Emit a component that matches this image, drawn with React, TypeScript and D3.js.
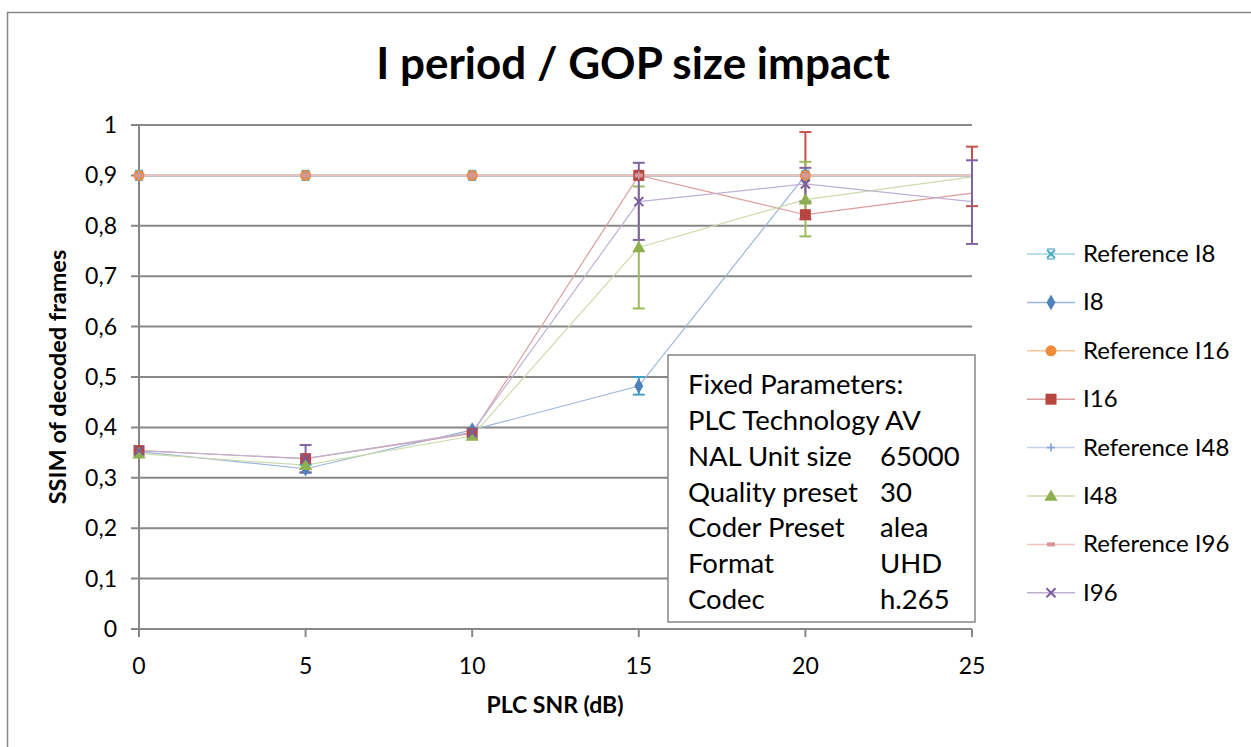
import React from "react";
import * as d3 from "d3";

const xValues = [0, 5, 10, 15, 20, 25];
const yTicks = [0, 0.1, 0.2, 0.3, 0.4, 0.5, 0.6, 0.7, 0.8, 0.9, 1];
const xTicks = [0, 5, 10, 15, 20, 25];

const seriesNames = ["Reference I8", "I8", "Reference I16", "I16", "Reference I48", "I48", "Reference I96", "I96"];

const refI8 = [0.9, 0.9, 0.9, 0.9, 0.9, 0.9];
const i8 = [0.352, 0.318, 0.395, 0.482, 0.9, 0.9];
const refI16 = [0.9, 0.9, 0.9, 0.9, 0.9, 0.9];
const i16 = [0.354, 0.338, 0.388, 0.9, 0.822, 0.865];
const refI48 = [0.9, 0.9, 0.9, 0.9, 0.9, 0.9];
const i48 = [0.348, 0.325, 0.383, 0.757, 0.852, 0.897];
const refI96 = [0.9, 0.9, 0.9, 0.9, 0.9, 0.9];
const i96 = [0.354, 0.338, 0.39, 0.848, 0.883, 0.848];

// error bars: [low, high] or null
const i8Err: ([number, number] | null)[] = [null, [0.31, 0.326], null, [0.465, 0.5], null, null];
const i16Err: ([number, number] | null)[] = [null, null, null, null, [0.813, 0.986], [0.839, 0.957]];
const i48Err: ([number, number] | null)[] = [null, null, null, [0.636, 0.878], [0.779, 0.927], null];
const i96Err: ([number, number] | null)[] = [null, [0.311, 0.365], null, [0.772, 0.925], [0.848, 0.915], [0.764, 0.93]];

const paramLabels = ["PLC Technology AV", "NAL Unit size", "Quality preset", "Coder Preset", "Format", "Codec"];
const paramValues = ["", "65000", "30", "alea", "UHD", "h.265"];

const FONT = "Lato, 'Open Sans', sans-serif";

type Series = {
  name: string;
  values: number[];
  line: string;
  marker: string;
  shape: string;
  err: ([number, number] | null)[] | null;
  errColor: string;
};

const series: Series[] = [
  { name: seriesNames[0], values: refI8, line: "#9fd3e2", marker: "#4BACC6", shape: "star", err: null, errColor: "" },
  { name: seriesNames[1], values: i8, line: "#9cb6da", marker: "#4F81BD", shape: "diamond", err: i8Err, errColor: "#3fa3c2" },
  { name: seriesNames[2], values: refI16, line: "#f9c79d", marker: "#F08A3C", shape: "circle", err: null, errColor: "" },
  { name: seriesNames[3], values: i16, line: "#dc9e9c", marker: "#B84540", shape: "square", err: i16Err, errColor: "#c8504c" },
  { name: seriesNames[4], values: refI48, line: "#c4d4ea", marker: "#8aa6d6", shape: "plus", err: null, errColor: "" },
  { name: seriesNames[5], values: i48, line: "#cbdcab", marker: "#8eb04e", shape: "triangle", err: i48Err, errColor: "#9bbb59" },
  { name: seriesNames[6], values: refI96, line: "#efc4c3", marker: "#d99694", shape: "dash", err: null, errColor: "" },
  { name: seriesNames[7], values: i96, line: "#bfb1d3", marker: "#7a5c9e", shape: "x", err: i96Err, errColor: "#8064A2" },
];

function Marker({ shape, color, x, y }: { shape: string; color: string; x: number; y: number }) {
  switch (shape) {
    case "diamond":
      return <path d={d3.symbol(d3.symbolDiamond, 70)()!} transform={`translate(${x},${y})`} fill={color} />;
    case "circle":
      return <circle cx={x} cy={y} r={5.5} fill={color} />;
    case "square":
      return <rect x={x - 5.5} y={y - 5.5} width={11} height={11} fill={color} />;
    case "triangle":
      return <path d={d3.symbol(d3.symbolTriangle, 75)()!} transform={`translate(${x},${y + 1})`} fill={color} />;
    case "plus":
      return (
        <g stroke={color} strokeWidth={1.8}>
          <line x1={x - 4} x2={x + 4} y1={y} y2={y} />
          <line x1={x} x2={x} y1={y - 4} y2={y + 4} />
        </g>
      );
    case "dash":
      return <rect x={x - 4} y={y - 2} width={8} height={4} fill={color} />;
    case "star":
      return (
        <g stroke={color} strokeWidth={2}>
          <line x1={x - 4} x2={x + 4} y1={y - 4} y2={y + 4} />
          <line x1={x - 4} x2={x + 4} y1={y + 4} y2={y - 4} />
          <line x1={x - 4} x2={x + 4} y1={y - 5} y2={y - 5} strokeWidth={1.2} />
          <line x1={x - 4} x2={x + 4} y1={y + 5} y2={y + 5} strokeWidth={1.2} />
        </g>
      );
    case "x":
    default:
      return (
        <g stroke={color} strokeWidth={2}>
          <line x1={x - 4.5} x2={x + 4.5} y1={y - 4.5} y2={y + 4.5} />
          <line x1={x - 4.5} x2={x + 4.5} y1={y + 4.5} y2={y - 4.5} />
        </g>
      );
  }
}

export default function App() {
  const W = 1251;
  const H = 747;
  const left = 139;
  const right = 972;
  const top = 125;
  const bottom = 629;

  const x = d3.scaleLinear().domain([0, 25]).range([left, right]);
  const y = d3.scaleLinear().domain([0, 1]).range([bottom, top]);
  const line = d3
    .line<number>()
    .x((_, i) => x(xValues[i]))
    .y((d) => y(d));

  const legendX = 1027;
  const legendY0 = 254;
  const legendStep = 48.4;

  const boxX = 668;
  const boxY = 355;
  const boxW = 307;
  const boxH = 267;
  const gray = "#878787";

  return (
    <svg
      width={W}
      height={H}
      style={{ position: "absolute", left: 0, top: 0, background: "#fff" }}
      fontFamily={FONT}
    >
      <rect x={0} y={0} width={W} height={H} fill="#fff" />
      <rect x={7.5} y={12.5} width={1400} height={900} fill="none" stroke={gray} strokeWidth={1.5} />

      <text x={633} y={79} textAnchor="middle" fontSize={44} fontWeight="bold" fill="#000">
        I period / GOP size impact
      </text>

      {/* gridlines */}
      {yTicks.map((t) => (
        <line key={"g" + t} x1={left - 8} x2={right} y1={y(t)} y2={y(t)} stroke={gray} strokeWidth={2} />
      ))}
      {/* y axis */}
      <line x1={left} x2={left} y1={top} y2={bottom} stroke={gray} strokeWidth={2} />
      {/* x ticks */}
      {xTicks.map((t) => (
        <line key={"xt" + t} x1={x(t)} x2={x(t)} y1={bottom} y2={bottom + 8} stroke={gray} strokeWidth={2} />
      ))}
      {yTicks.map((t) => (
        <text key={"yl" + t} x={117} y={y(t) + 8} textAnchor="end" fontSize={23} fill="#000">
          {t === 0 || t === 1 ? String(t) : d3.format(".1f")(t).replace(".", ",")}
        </text>
      ))}
      {xTicks.map((t) => (
        <text key={"xl" + t} x={x(t)} y={674} textAnchor="middle" fontSize={23} fill="#000">
          {t}
        </text>
      ))}

      <text x={555} y={713} textAnchor="middle" fontSize={23} fontWeight="bold" fill="#000">
        PLC SNR (dB)
      </text>
      <text
        transform={`translate(66,${377}) rotate(-90)`}
        textAnchor="middle"
        fontSize={23.5}
        fontWeight="bold"
        fill="#000"
      >
        SSIM of decoded frames
      </text>

      {/* lines */}
      {series.map((s) => (
        <path key={"l" + s.name} d={line(s.values)!} fill="none" stroke={s.line} strokeWidth={1.2} />
      ))}

      {/* error bars */}
      {series.map((s) =>
        s.err
          ? s.err.map((e, i) =>
              e ? (
                <g key={"e" + s.name + i} stroke={s.errColor} strokeWidth={2}>
                  <line x1={x(xValues[i])} x2={x(xValues[i])} y1={y(e[0])} y2={y(e[1])} />
                  <line x1={x(xValues[i]) - 6} x2={x(xValues[i]) + 6} y1={y(e[0])} y2={y(e[0])} />
                  <line x1={x(xValues[i]) - 6} x2={x(xValues[i]) + 6} y1={y(e[1])} y2={y(e[1])} />
                </g>
              ) : null
            )
          : null
      )}

      {/* markers (not at the last point) */}
      {series.map((s) =>
        s.values.slice(0, xValues.length - 1).map((v, i) => (
          <Marker key={"m" + s.name + i} shape={s.shape} color={s.marker} x={x(xValues[i])} y={y(v)} />
        ))
      )}

      {/* legend */}
      {series.map((s, i) => {
        const ly = legendY0 + i * legendStep;
        return (
          <g key={"lg" + s.name}>
            <line x1={legendX} x2={legendX + 48} y1={ly} y2={ly} stroke={s.line} strokeWidth={1.5} />
            <Marker shape={s.shape} color={s.marker} x={legendX + 24} y={ly} />
            <text x={legendX + 56} y={ly + 8} fontSize={24} fill="#000">
              {s.name}
            </text>
          </g>
        );
      })}

      {/* text box */}
      <rect x={boxX} y={boxY} width={boxW} height={boxH} fill="#fff" stroke={gray} strokeWidth={1.5} />
      <text x={688} y={394} fontSize={27.5} fill="#000">
        Fixed Parameters:
      </text>
      {paramLabels.map((p, i) => (
        <g key={"p" + i}>
          <text x={688} y={430 + i * 35.8} fontSize={27.5} fill="#000">
            {p}
          </text>
          <text x={880} y={430 + i * 35.8} fontSize={27.5} fill="#000">
            {paramValues[i]}
          </text>
        </g>
      ))}
    </svg>
  );
}
